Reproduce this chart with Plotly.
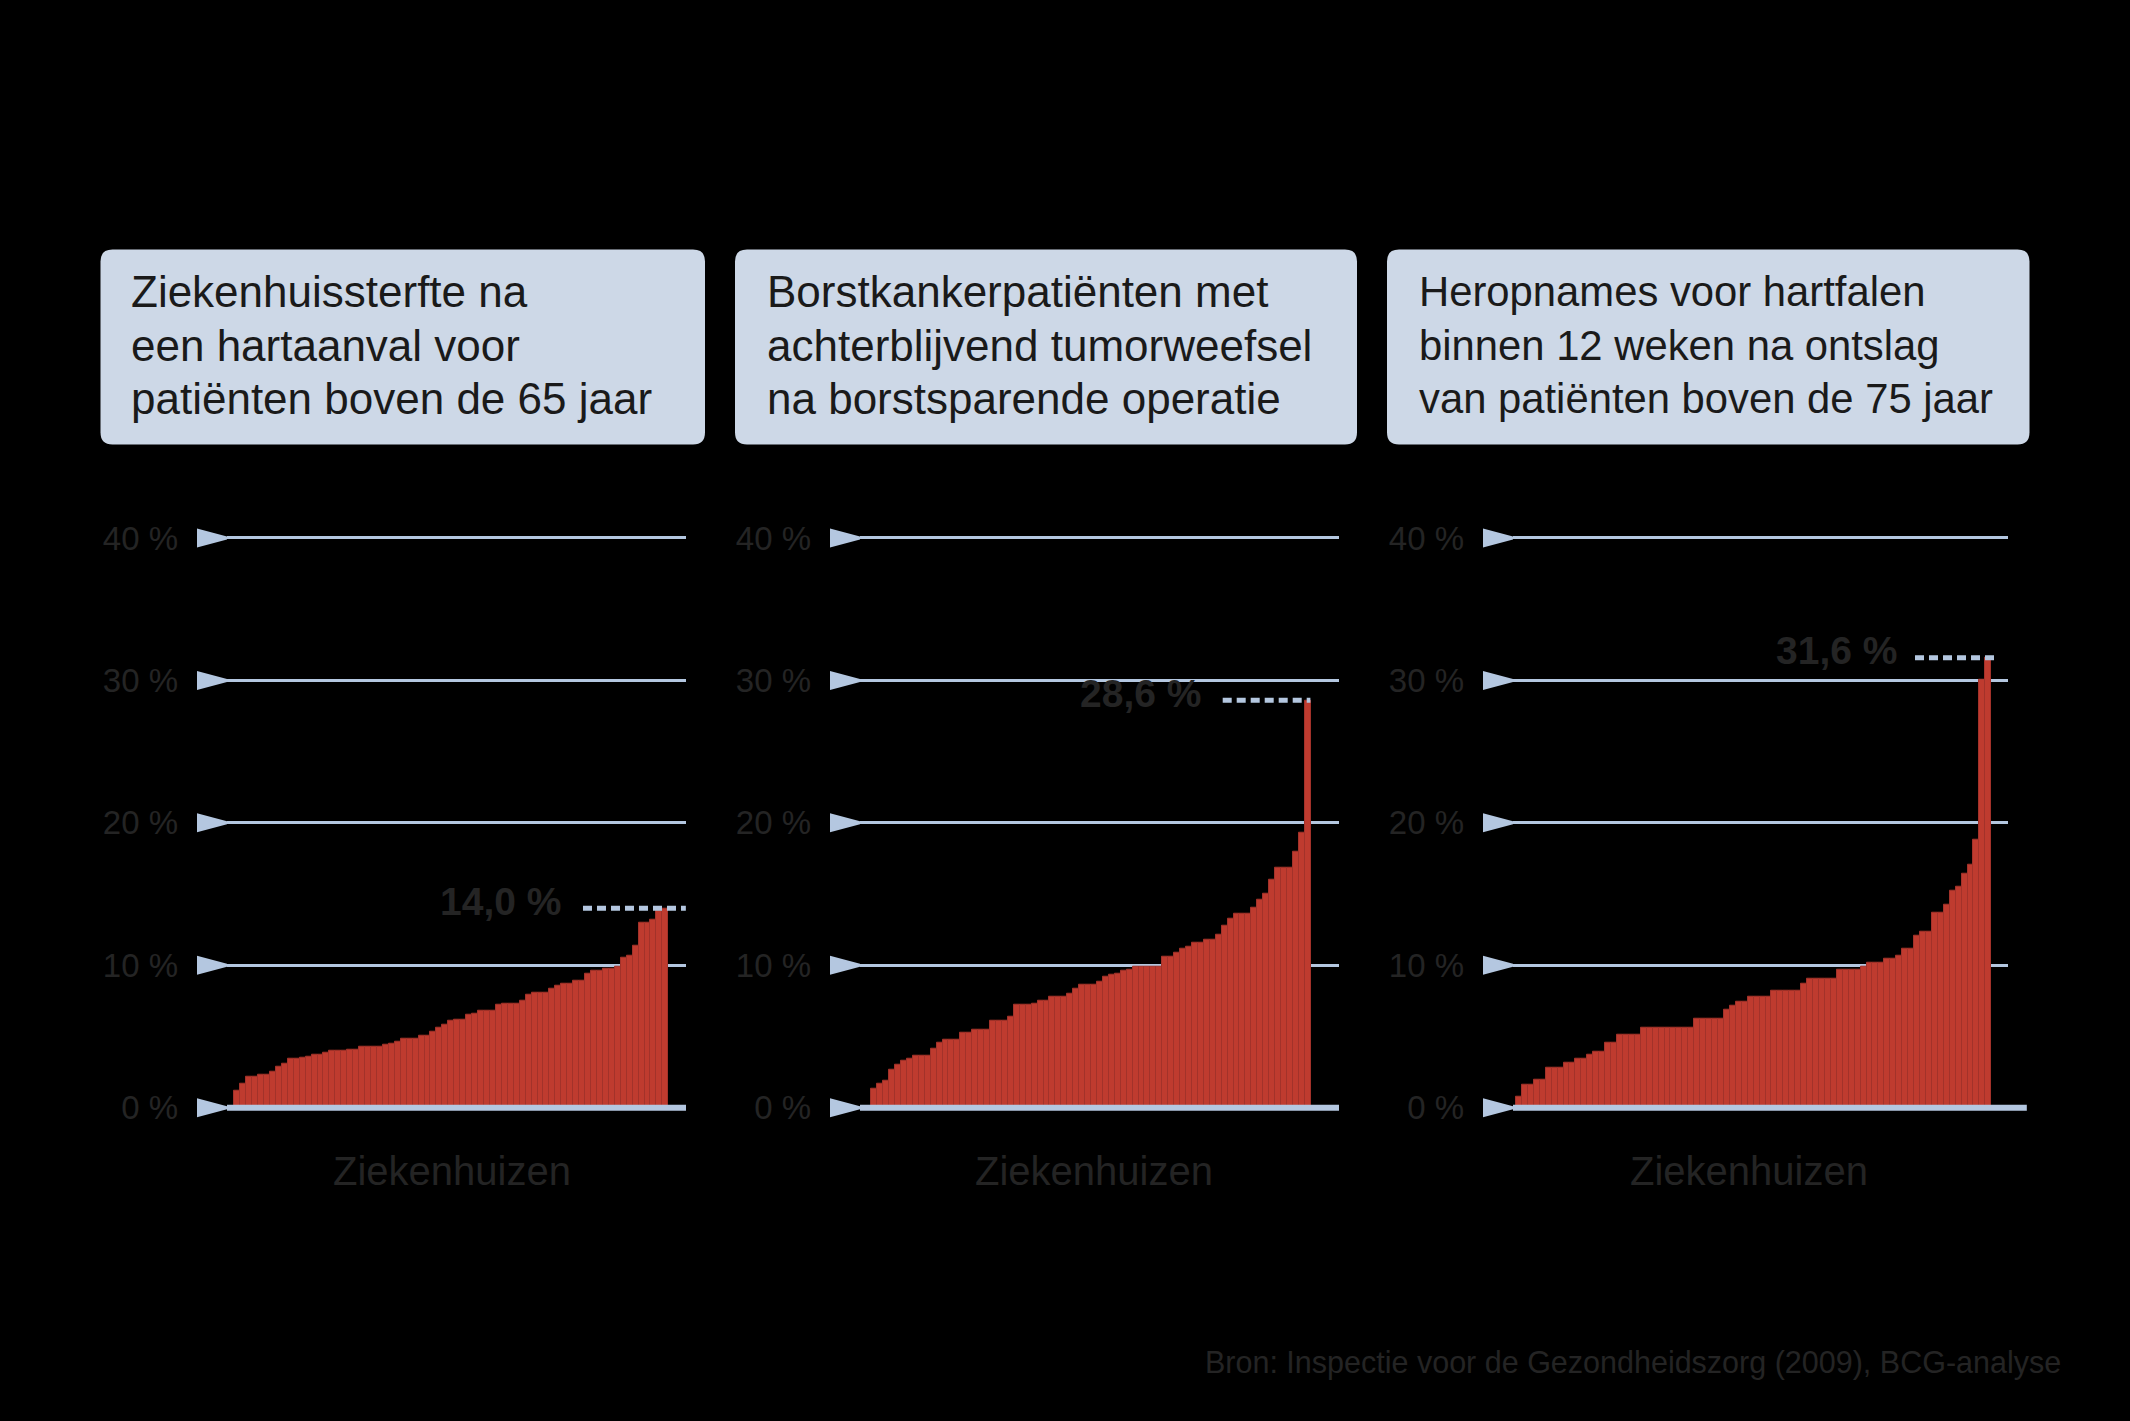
import plotly.graph_objects as go

# ---------------- data ----------------
titles = [
    ["Ziekenhuissterfte na", "een hartaanval voor", "patiënten boven de 65 jaar"],
    ["Borstkankerpatiënten met", "achterblijvend tumorweefsel", "na borstsparende operatie"],
    ["Heropnames voor hartfalen", "binnen 12 weken na ontslag", "van patiënten boven de 75 jaar"],
]
sterfte_hartaanval = [
    1.2, 1.7, 2.2, 2.2, 2.35, 2.35, 2.5, 2.9, 3.1, 3.45,
    3.45, 3.5, 3.6, 3.7, 3.7, 3.85, 4.0, 4.0, 4.0, 4.1,
    4.1, 4.25, 4.25, 4.25, 4.25, 4.4, 4.5, 4.65, 4.85, 4.85,
    4.85, 5.05, 5.05, 5.35, 5.65, 5.8, 6.1, 6.15, 6.15, 6.5,
    6.6, 6.8, 6.8, 6.8, 7.2, 7.3, 7.3, 7.3, 7.5, 7.9,
    8.1, 8.1, 8.1, 8.35, 8.55, 8.7, 8.7, 8.9, 8.9, 9.4,
    9.6, 9.6, 9.75, 9.75, 9.9, 10.55, 10.7, 11.4, 13.0, 13.0,
    13.2, 13.8, 14.0,
]
borstkanker_tumorweefsel = [
    1.36, 1.67, 1.92, 2.65, 3.05, 3.33, 3.47, 3.64, 3.64, 3.64,
    4.15, 4.58, 4.81, 4.81, 4.81, 5.3, 5.3, 5.47, 5.47, 5.47,
    6.08, 6.08, 6.08, 6.38, 7.2, 7.2, 7.2, 7.3, 7.5, 7.5,
    7.8, 7.8, 7.8, 8.0, 8.33, 8.64, 8.64, 8.64, 8.85, 9.18,
    9.32, 9.41, 9.65, 9.72, 9.9, 9.9, 9.9, 9.9, 9.9, 10.6,
    10.6, 10.87, 11.15, 11.27, 11.57, 11.57, 11.78, 11.78, 12.16, 12.75,
    13.24, 13.6, 13.6, 13.6, 14.04, 14.58, 15.05, 16.03, 16.83, 16.83,
    16.83, 17.98, 19.34, 28.6,
]
heropnames_hartfalen = [
    0.8, 1.6, 1.6, 1.97, 1.97, 2.82, 2.82, 2.82, 3.15, 3.15,
    3.43, 3.43, 3.7, 3.9, 3.9, 4.53, 4.53, 5.1, 5.1, 5.1,
    5.1, 5.6, 5.6, 5.6, 5.6, 5.6, 5.6, 5.6, 5.6, 5.6,
    6.27, 6.27, 6.27, 6.27, 6.27, 6.85, 7.14, 7.42, 7.42, 7.77,
    7.77, 7.77, 7.77, 8.24, 8.24, 8.24, 8.24, 8.24, 8.69, 9.04,
    9.04, 9.04, 9.04, 9.04, 9.67, 9.67, 9.67, 9.67, 9.9, 10.19,
    10.19, 10.19, 10.47, 10.47, 10.7, 11.17, 11.17, 12.07, 12.39, 12.39,
    13.66, 13.66, 14.25, 15.26, 15.52, 16.43, 17.04, 18.8, 30.05, 31.6,
]
series = [sterfte_hartaanval, borstkanker_tumorweefsel, heropnames_hartfalen]
tick_values = [0, 10, 20, 30, 40]
tick_labels = ["0 %", "10 %", "20 %", "30 %", "40 %"]
x_label = "Ziekenhuizen"
source = "Bron: Inspectie voor de Gezondheidszorg (2009), BCG-analyse"

# ---------------- layout constants ----------------
W, H = 2130, 1421
FONT = "Liberation Sans, Arial, sans-serif"
GRID = "#b4c7e0"
BAR = "#bf3b2f"
BAR_EDGE = "#a3322a"
TXT = "#242424"
BOX = "#cdd8e7"

x_domains_px = [(227, 686), (860, 1339), (1513, 2008)]
x_ranges = [(-1.728, 75.477), (-2.403, 78.266), (-1.005, 82.31)]
baseline_ext = [1.0, 1.0, 1.038]
dot_spans = [(58.15, 75.45), (58.68, 73.45), (66.66, 80.8)]
label_shift = [-20, -20, -16]
boxes_px = [(100.5, 705, 247, 443), (735, 1357, 247, 443), (1387, 2029.5, 247, 443)]
text_left_px = [129, 765, 1417]
title_sizes = [44, 44, 41.8]
title_line_px = [289.5, 343, 397]
xlabel_pos = [0.49, 0.489, 0.476]

Y0_PX, Y40_PX = 1110, 537
y_range = [-1, 41]
px_per_unit = (Y0_PX - Y40_PX) / 40.0
y_bot_px = Y0_PX + px_per_unit * (0 - y_range[0])
y_top_px = Y40_PX - px_per_unit * (y_range[1] - 40)
y_domain = [(H - y_bot_px) / H, (H - y_top_px) / H]


def px2x(p):
    return p / W


def px2y(p):
    return (H - p) / H


def rounded_rect(x0, x1, yt, yb, r=12):
    rx, ry = r / W, r / H
    X0, X1, YT, YB = px2x(x0), px2x(x1), px2y(yt), px2y(yb)
    return (f"M{X0+rx},{YT} L{X1-rx},{YT} Q{X1},{YT} {X1},{YT-ry} "
            f"L{X1},{YB+ry} Q{X1},{YB} {X1-rx},{YB} "
            f"L{X0+rx},{YB} Q{X0},{YB} {X0},{YB+ry} "
            f"L{X0},{YT-ry} Q{X0},{YT} {X0+rx},{YT} Z")


fig = go.Figure()
shapes = []
annotations = []

for k, vals in enumerate(series):
    sfx = "" if k == 0 else str(k + 1)
    xa, ya = "x" + sfx, "y" + sfx
    n = len(vals)
    fig.add_trace(go.Bar(
        x=list(range(n)), y=vals, width=1.0,
        marker=dict(color=BAR, line=dict(color=BAR_EDGE, width=1)),
        xaxis=xa, yaxis=ya, showlegend=False, hoverinfo="skip",
    ))
    vmax = max(vals)
    d0, d1 = dot_spans[k]
    fig.add_trace(go.Scatter(
        x=[d0, d1], y=[vmax, vmax], mode="lines",
        line=dict(color=GRID, width=5, dash="9px,5px"),
        xaxis=xa, yaxis=ya, showlegend=False, hoverinfo="skip", cliponaxis=False,
    ))
    annotations.append(dict(
        x=d0, y=vmax, xref=xa, yref=ya, xanchor="right", yanchor="middle",
        xshift=label_shift[k], yshift=7, showarrow=False,
        text=f"<b>{vmax:.1f}".replace(".", ",") + " %</b>",
        font=dict(family=FONT, size=39, color=TXT),
    ))
    dpx = x_domains_px[k]
    fig.layout["xaxis" + sfx] = dict(
        domain=[px2x(dpx[0]), px2x(dpx[1])], range=list(x_ranges[k]),
        visible=False, anchor=ya, fixedrange=True,
    )
    fig.layout["yaxis" + sfx] = dict(
        domain=y_domain, range=y_range, anchor=xa,
        tickvals=tick_values, ticktext=tick_labels,
        showgrid=True, gridcolor=GRID, gridwidth=3,
        zeroline=False, showline=False, ticks="",
        ticklabelstandoff=48,
        tickfont=dict(family=FONT, size=33, color=TXT), fixedrange=True,
    )
    shapes.append(dict(
        type="line", xref=xa + " domain", yref=ya, x0=0, x1=baseline_ext[k],
        y0=0, y1=0, line=dict(color=GRID, width=6), layer="above",
    ))
    for tv in tick_values:
        shapes.append(dict(
            type="path", xref=xa + " domain", yref=ya,
            xsizemode="pixel", ysizemode="pixel", xanchor=0, yanchor=tv,
            path="M-30,-9.5 L0,-1.5 L0,1.5 L-30,9.5 Z",
            fillcolor=GRID, line=dict(width=0), layer="above",
        ))
    bx = boxes_px[k]
    shapes.append(dict(
        type="path", xref="paper", yref="paper",
        path=rounded_rect(*bx), fillcolor=BOX, line=dict(width=0), layer="below",
    ))
    for line_txt, ly in zip(titles[k], title_line_px):
        annotations.append(dict(
            x=px2x(text_left_px[k]), y=px2y(ly),
            xref="paper", yref="paper", xanchor="left", yanchor="middle",
            align="left", showarrow=False, text=line_txt,
            font=dict(family=FONT, size=title_sizes[k], color="#1a1a1a"),
        ))
    annotations.append(dict(
        x=xlabel_pos[k], y=px2y(1174), xref=xa + " domain", yref="paper",
        xanchor="center", yanchor="middle", showarrow=False, text=x_label,
        font=dict(family=FONT, size=40, color=TXT),
    ))

annotations.append(dict(
    x=px2x(2063), y=px2y(1366), xref="paper", yref="paper",
    xanchor="right", yanchor="middle", showarrow=False, text=source,
    font=dict(family=FONT, size=30.5, color=TXT),
))

fig.update_layout(
    width=W, height=H, margin=dict(l=0, r=0, t=0, b=0),
    paper_bgcolor="black", plot_bgcolor="rgba(0,0,0,0)",
    bargap=0, shapes=shapes, annotations=annotations, showlegend=False,
)

fig.write_html("out.html", config={"displayModeBar": False})
